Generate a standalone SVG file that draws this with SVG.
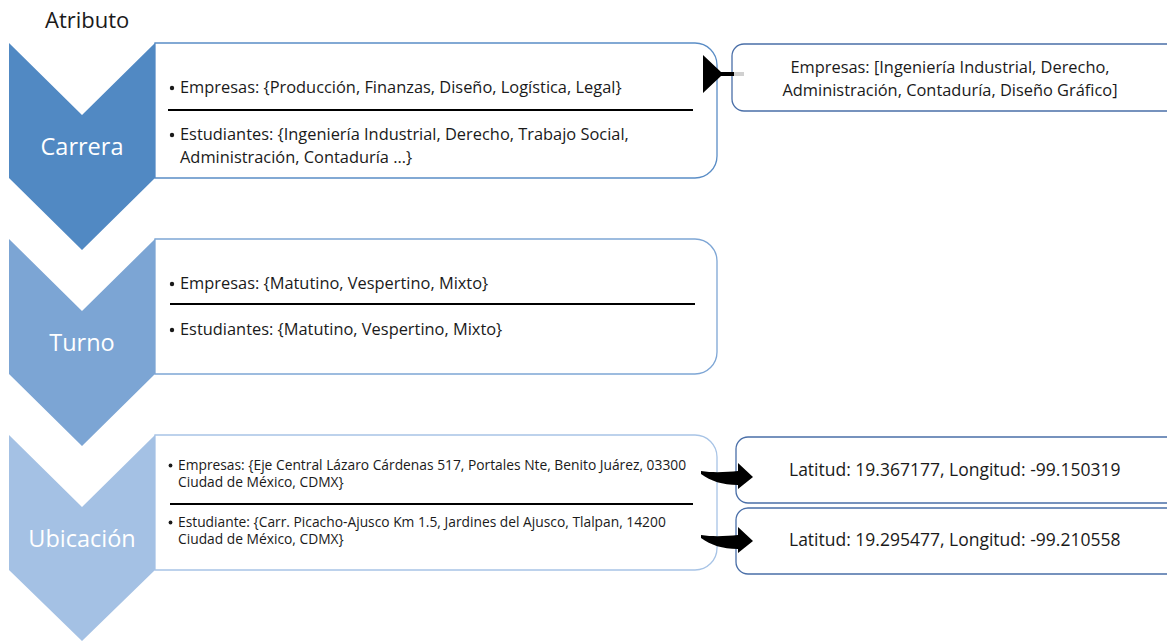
<svg xmlns="http://www.w3.org/2000/svg" width="1167" height="641" viewBox="0 0 1167 641">
<style>
.t{font-family:"Open Sans","Liberation Sans",Arial,sans-serif;fill:#1a1a1a}
.m{font-size:16.4px}
.s{font-size:13.8px}
.c{font-family:"Open Sans","Liberation Sans",Arial,sans-serif;fill:#fff;font-size:23.5px;text-anchor:middle}
.sep{stroke:#000;stroke-width:2}
.rb{fill:#fff;stroke:#4a6fa8;stroke-width:1.3}
.b{fill:#1a1a1a}
</style>
<rect width="1167" height="641" fill="#fff"/>
<text class="t" x="45" y="28" font-size="22">Atributo</text>

<g id="carrera">
<path d="M155,43 H695 A22,22 0 0 1 717,65 V156 A22,22 0 0 1 695,178 H155 Z" fill="#fff" stroke="#5a8dc6" stroke-width="1.3"/>
<path d="M9,43 L82,115 L155,43 V178 L82,250 L9,178 Z" fill="#5189c3"/>
<text class="c" x="82" y="155">Carrera</text>
<circle class="b" cx="172" cy="88" r="2.2"/>
<text class="t m" x="180" y="93">Empresas: {Producción, Finanzas, Diseño, Logística, Legal}</text>
<line class="sep" x1="168" y1="110" x2="693" y2="110"/>
<circle class="b" cx="172" cy="135" r="2.2"/>
<text class="t m" x="180" y="140">Estudiantes: {Ingeniería Industrial, Derecho, Trabajo Social,</text>
<text class="t m" x="180" y="163">Administración, Contaduría …}</text>
</g>

<g id="turno">
<path d="M155,239 H695 A22,22 0 0 1 717,261 V352 A22,22 0 0 1 695,374 H155 Z" fill="#fff" stroke="#7ea6d5" stroke-width="1.3"/>
<path d="M9,239 L82,311 L155,239 V374 L82,446 L9,374 Z" fill="#7ca5d4"/>
<text class="c" x="82" y="351">Turno</text>
<circle class="b" cx="172" cy="284" r="2.2"/>
<text class="t m" x="180" y="289">Empresas: {Matutino, Vespertino, Mixto}</text>
<line class="sep" x1="170" y1="304" x2="695" y2="304"/>
<circle class="b" cx="172" cy="330" r="2.2"/>
<text class="t m" x="180" y="335">Estudiantes: {Matutino, Vespertino, Mixto}</text>
</g>

<g id="ubicacion">
<path d="M155,435 H695 A22,22 0 0 1 717,457 V548 A22,22 0 0 1 695,570 H155 Z" fill="#fff" stroke="#a8c4e6" stroke-width="1.3"/>
<path d="M9,435 L82,507 L155,435 V570 L82,641 L9,570 Z" fill="#a4c1e4"/>
<text class="c" x="82" y="547">Ubicación</text>
<circle class="b" cx="170.5" cy="465.5" r="1.9"/>
<text class="t s" x="178" y="470">Empresas: {Eje Central Lázaro Cárdenas 517, Portales Nte, Benito Juárez, 03300</text>
<text class="t s" x="178" y="487">Ciudad de México, CDMX}</text>
<line class="sep" x1="170" y1="504" x2="693" y2="504"/>
<circle class="b" cx="170.5" cy="522.5" r="1.9"/>
<text class="t s" x="178" y="527">Estudiante: {Carr. Picacho-Ajusco Km 1.5, Jardines del Ajusco, Tlalpan, 14200</text>
<text class="t s" x="178" y="544">Ciudad de México, CDMX}</text>
</g>

<g id="carrera-detalle">
<rect class="rb" x="732" y="44" width="460" height="67" rx="12"/>
<text class="t" x="950" y="73" text-anchor="middle" font-size="16.4">Empresas: [Ingeniería Industrial, Derecho,</text>
<text class="t" x="950" y="96" text-anchor="middle" font-size="16.4">Administración, Contaduría, Diseño Gráfico]</text>
</g>

<g id="coord-empresa">
<rect class="rb" x="736" y="437" width="460" height="66" rx="12"/>
<text class="t" x="789" y="476" font-size="17.5">Latitud: 19.367177, Longitud: -99.150319</text>
</g>

<g id="coord-estudiante">
<rect class="rb" x="736" y="508" width="460" height="66" rx="12"/>
<text class="t" x="789" y="546" font-size="17.5">Latitud: 19.295477, Longitud: -99.210558</text>
</g>

<g id="connectors">
<line x1="733" y1="74" x2="744" y2="74" stroke="#d0d0d0" stroke-width="4"/>
<path d="M703,55 L721,72 L734,72 L734,76 L721,76 L703,93 Z" fill="#000"/>
<path d="M701,471 C714,473 727,472 738,471 L738,463 L753,477 L738,489 L738,485 C722,485 711,481 701,474 Z" fill="#000"/>
<path d="M701,535 C714,537 727,536 738,535 L738,527 L753,541 L738,553 L738,549 C722,549 711,545 701,538 Z" fill="#000"/>
</g>
</svg>
